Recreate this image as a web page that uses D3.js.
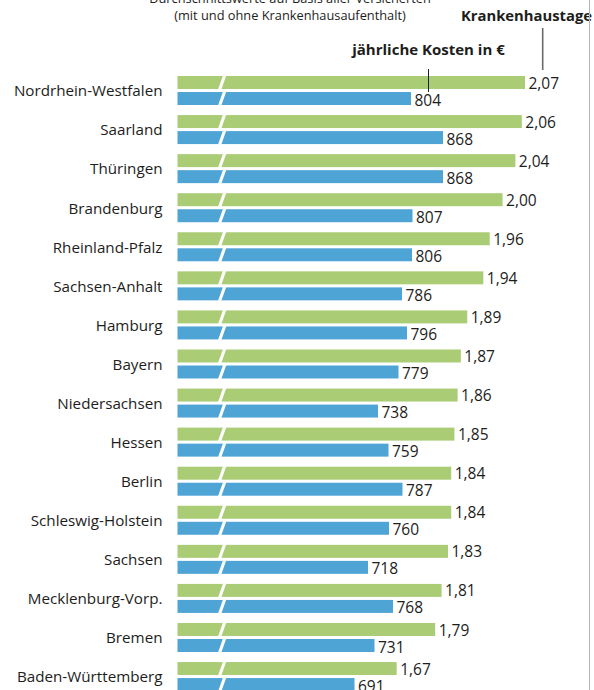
<!DOCTYPE html>
<html lang="de">
<head>
<meta charset="utf-8">
<script src="https://cdn.jsdelivr.net/npm/d3@7"></script>
<style>
  html, body { margin: 0; padding: 0; background: #fff; }
  svg { display: block; font-family: "Open Sans", sans-serif; }
</style>
</head>
<body>
<script>
// Bundesländer, sorted by average hospital days per insured person
const states = [
  "Nordrhein-Westfalen", "Saarland", "Thüringen", "Brandenburg",
  "Rheinland-Pfalz", "Sachsen-Anhalt", "Hamburg", "Bayern",
  "Niedersachsen", "Hessen", "Berlin", "Schleswig-Holstein",
  "Sachsen", "Mecklenburg-Vorp.", "Bremen", "Baden-Württemberg"
];
// Krankenhaustage (days in hospital per insured person)
const days = [2.07, 2.06, 2.04, 2.00, 1.96, 1.94, 1.89, 1.87, 1.86, 1.85, 1.84, 1.84, 1.83, 1.81, 1.79, 1.67];
// jährliche Kosten in € (annual hospital costs per insured person)
const costs = [804, 868, 868, 807, 806, 786, 796, 779, 738, 759, 787, 760, 718, 768, 731, 691];

const series = ["tage", "kosten"];
const seriesColor = { tage: "#a9cc75", kosten: "#4fa4d6" };

const W = 594, H = 690;
const svg = d3.select("body").append("svg").attr("width", W).attr("height", H);

const rows = states.map((s, i) => ({ state: s, tage: days[i], kosten: costs[i] }));

const fmtDays = v => d3.format(".2f")(v).replace(".", ",");
const fmtCost = v => d3.format("d")(v);

// Vertical layout: one band per state, two sub-bands for the two measures
const y = d3.scaleBand().domain(states).range([76, 76 + 16 * 39.07]).paddingInner(0);
const ySub = d3.scaleBand().domain(series).range([0, 29]).paddingInner(0.19);

// Both axes are truncated (broken baseline at the left edge)
const barLeft = 177.5;
const xDays = d3.scaleLinear().domain([1, 2.07]).range([181.7, 525]);
const xCost = d3.scaleLinear().domain([400, 868]).range([209, 443]);
const xOf = { tage: xDays, kosten: xCost };
const fmtOf = { tage: fmtDays, kosten: fmtCost };

const textColor = "#1d1d1b";

// header
const header = svg.append("g").attr("fill", textColor);
header.append("text")
  .attr("x", 290).attr("y", 3).attr("text-anchor", "middle")
  .attr("font-size", 12.8)
  .text("Durchschnittswerte auf Basis aller Versicherten");
header.append("text")
  .attr("x", 290).attr("y", 19.5).attr("text-anchor", "middle")
  .attr("font-size", 12.8)
  .text("(mit und ohne Krankenhausaufenthalt)");
header.append("text")
  .attr("x", 592).attr("y", 20.5).attr("text-anchor", "end")
  .attr("font-size", 14.8).attr("font-weight", "bold")
  .text("Krankenhaustage");
header.append("text")
  .attr("x", 428.5).attr("y", 55).attr("text-anchor", "middle")
  .attr("font-size", 15).attr("font-weight", "bold")
  .text("jährliche Kosten in €");

// right frame line
svg.append("line")
  .attr("x1", 589.5).attr("x2", 589.5).attr("y1", 0).attr("y2", H)
  .attr("stroke", "#b5b5b5").attr("stroke-width", 1);

// pointer line from the days title to the first row
svg.append("line")
  .attr("x1", 542.7).attr("x2", 542.7).attr("y1", 28).attr("y2", 70)
  .attr("stroke", "#6a6a6a").attr("stroke-width", 1.6);

const rowG = svg.selectAll("g.row").data(rows).join("g")
  .attr("class", "row")
  .attr("transform", d => `translate(0,${y(d.state)})`);

// state names
rowG.append("text")
  .attr("x", 162.5).attr("y", 15)
  .attr("dy", "0.35em")
  .attr("text-anchor", "end")
  .attr("font-size", 15.2)
  .attr("fill", textColor)
  .text(d => d.state);

series.forEach(s => {
  const bh = ySub.bandwidth();
  rowG.append("rect")
    .attr("x", barLeft)
    .attr("y", ySub(s))
    .attr("width", d => xOf[s](d[s]) - barLeft)
    .attr("height", bh)
    .attr("fill", seriesColor[s]);

  // white slash marking the broken axis
  rowG.append("polygon")
    .attr("points", () => {
      const t = ySub(s) - 0.5, b = ySub(s) + bh + 0.5;
      return [[218, b], [221.3, b], [226.3, t], [223, t]].map(p => p.join(",")).join(" ");
    })
    .attr("fill", "#fff");

  rowG.append("text")
    .attr("x", d => xOf[s](d[s]) + 3.5)
    .attr("y", ySub(s) + bh / 2 + (s === "kosten" ? 1.5 : 0.5))
    .attr("dy", "0.36em")
    .attr("font-size", 15.5)
    .attr("fill", textColor)
    .text(d => fmtOf[s](d[s]));
});

// pointer for the cost series, drawn over the first green bar
svg.append("line")
  .attr("x1", 428.5).attr("x2", 428.5)
  .attr("y1", 69).attr("y2", y(states[0]) + ySub("kosten"))
  .attr("stroke", "#222").attr("stroke-width", 1);
</script>
</body>
</html>
